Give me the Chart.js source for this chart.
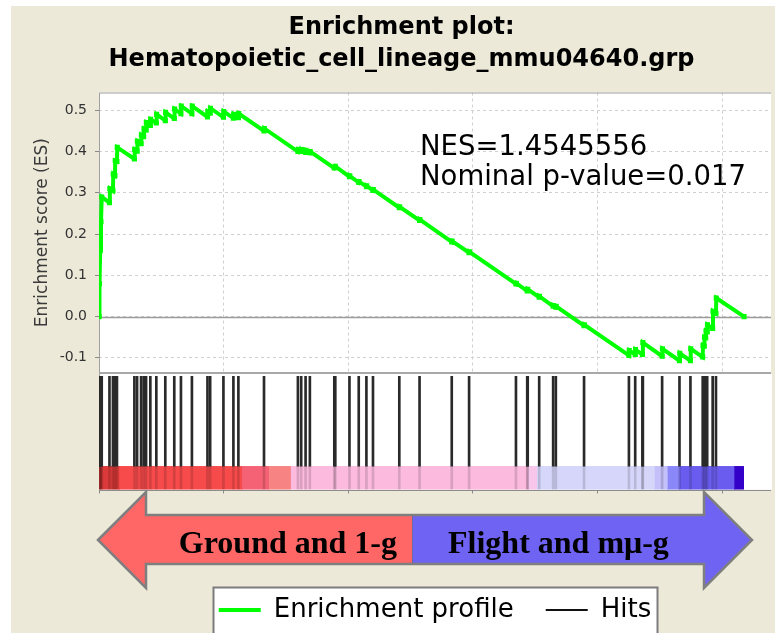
<!DOCTYPE html>
<html>
<head>
<meta charset="utf-8">
<title>Enrichment plot</title>
<script src="https://cdn.jsdelivr.net/npm/chart.js@4.4.1/dist/chart.umd.min.js"></script>
<style>
	html, body { margin: 0; padding: 0; background: #fff; }
	.gsea-frame { position: absolute; left: 11px; top: 6px; width: 764px; height: 627px; background: #ece9d8; }
	.gsea-plot { position: absolute; left: 0; top: 0; width: 775px; height: 633px; }
</style>
</head>
<body>
<div class="gsea-frame"></div>
<div class="gsea-plot"><canvas id="gsea-canvas" width="775" height="633"></canvas></div>
<script>
const titleLines = [ 'Enrichment plot:', 'Hematopoietic_cell_lineage_mmu04640.grp' ];
const statsLines = [ 'NES=1.4545556', 'Nominal p-value=0.017' ];
const arrowLabels = [ 'Ground and 1-g', 'Flight and m\u03bc-g' ];
const legendNames = [ 'Enrichment profile', 'Hits' ];

const yTicks = [ -0.1, 0.0, 0.1, 0.2, 0.3, 0.4, 0.5 ];
const xGridRanks = [ 0, 5000, 10000, 15000, 20000, 25000 ];

// running enrichment score (rank in list, ES)
const esRanks = [
	0, 20, 48, 80, 110, 420, 436, 560, 572, 640, 652, 720, 732,
	1420, 1432, 1528, 1540, 1688, 1700, 1792, 1804, 1888, 1900, 2060, 2072,
	2300, 2312, 2660, 2672, 3020, 3032, 3288, 3300, 3728, 3740, 4352, 4364,
	4460, 4472, 4992, 5004, 5392, 5404, 5592, 5604, 6620, 6632, 7980, 7992,
	8112, 8124, 8288, 8300, 8460, 8472, 9440, 9480, 10048, 10060, 10420, 10432,
	10728, 10740, 10992, 11004, 12048, 12060, 12860, 12872, 14152, 14164,
	14848, 14860, 16728, 16740, 17180, 17200, 17660, 17672, 18220, 18232,
	18328, 18340, 19460, 19472, 21260, 21272, 21512, 21524, 21800, 21820,
	22592, 22604, 23288, 23300, 23728, 23740, 24220, 24232, 24280, 24292,
	24340, 24352, 24400, 24412, 24620, 24632, 24752, 24764, 25880,
];
const esScores = [
	0, 0.08, 0.16, 0.23, 0.29, 0.276, 0.31, 0.305, 0.345, 0.342, 0.378, 0.376, 0.41,
	0.382, 0.405, 0.401, 0.425, 0.419, 0.44, 0.436, 0.455, 0.452, 0.47, 0.463, 0.478,
	0.469, 0.49, 0.475, 0.495, 0.48, 0.503, 0.492, 0.51, 0.492, 0.51, 0.484, 0.497,
	0.493, 0.505, 0.483, 0.497, 0.481, 0.49, 0.482, 0.492, 0.45, 0.456, 0.4, 0.405,
	0.4, 0.405, 0.398, 0.403, 0.397, 0.4, 0.36, 0.364, 0.339, 0.341, 0.325, 0.327,
	0.315, 0.317, 0.306, 0.308, 0.264, 0.266, 0.233, 0.235, 0.181, 0.183,
	0.155, 0.157, 0.079, 0.081, 0.062, 0.066, 0.047, 0.049, 0.025, 0.027,
	0.023, 0.025, -0.022, -0.02, -0.094, -0.082, -0.092, -0.08, -0.092, -0.063,
	-0.096, -0.078, -0.107, -0.089, -0.107, -0.078, -0.098, -0.07, -0.072, -0.05,
	-0.052, -0.035, -0.037, -0.02, -0.029, 0.013, 0.008, 0.045, 0,
];

// gene set members along the ranked list
const hitRanks = [
	20, 48, 80, 110, 420, 560, 640, 720, 1420, 1528, 1688, 1792, 1888, 2060,
	2300, 2660, 3020, 3288, 3728, 4352, 4460, 4992, 5392, 5592, 6620, 7980,
	8112, 8288, 8460, 9440, 9480, 10048, 10420, 10728, 10992, 12048, 12860,
	14152, 14848, 16728, 17180, 17200, 17660, 18220, 18328, 19460, 21260,
	21512, 21800, 21820, 22592, 23288, 23728, 24220, 24280, 24340, 24400,
	24620, 24752,
];

// ranked-list metric colour bar
const colorBarEdges = [ 0, 820, 5740, 6820, 7700, 17220, 17580, 22300, 22820, 23300, 25500, 25860 ];
const colorBarColors = [
	'#dc3a3a', '#f74b4b', '#f56275', '#f78383', '#fcbadf', '#f7c6ea',
	'#d6d6fb', '#c4c0fa', '#8a88f8', '#6a5cee', '#3400c9',
];

const X_MAX = 26960;
const HIT_BAND = [ 0.2, 0.97 ];
const BAR_TOP = 0.2;
const STATS_AT = { rank: 12880, score: 0.391, lineGap: 30 };
const ARROW = { left: 98, right: 752, split: 412, head: 48, top: 492, bottom: 588, shaftTop: 515, shaftBottom: 564 };
const PANEL_LINE = '#a0a0a0';

Chart.defaults.font.family = "'DejaVu Sans', sans-serif";
Chart.defaults.color = '#333';

const panelPlugin = {
	id: 'panels',
	beforeDraw( chart ) {
		const { ctx, chartArea: a } = chart;
		ctx.save();
		ctx.fillStyle = '#fff';
		ctx.fillRect( a.left, a.top, a.right - a.left, a.bottom - a.top );

		// framed legend box, sized from the legend items
		const boxes = chart.legend.legendHitBoxes;
		if ( boxes && boxes.length ) {
			const first = boxes[ 0 ];
			const last = boxes[ boxes.length - 1 ];
			const x0 = Math.round( first.left - 6 ) + 0.5;
			const x1 = Math.round( last.left + last.width + 6 ) + 0.5;
			const y0 = Math.round( first.top + first.height / 2 - 23 ) + 0.5;
			ctx.fillStyle = '#fff';
			ctx.fillRect( x0, y0, x1 - x0, chart.height - y0 + 10 );
			ctx.strokeStyle = '#7c7c7c';
			ctx.lineWidth = 2;
			ctx.strokeRect( x0, y0, x1 - x0, chart.height - y0 + 10 );
		}
		ctx.restore();
	},
	beforeDatasetsDraw( chart ) {
		const { ctx, chartArea: a, scales } = chart;
		const { x, y, y2 } = scales;
		ctx.save();
		// no grid in the hits panel
		ctx.fillStyle = '#fff';
		ctx.fillRect( a.left + 1, y2.top + 1, a.right - a.left, y2.bottom - y2.top - 1 );

		// backing under the colour bar so the fill edges don't leave white seams
		const barTop = y2.getPixelForValue( BAR_TOP );
		const barBottom = y2.getPixelForValue( 0 );
		colorBarColors.forEach( ( color, i ) => {
			const x0 = x.getPixelForValue( colorBarEdges[ i ] );
			const x1 = x.getPixelForValue( colorBarEdges[ i + 1 ] );
			ctx.fillStyle = color;
			ctx.fillRect( Math.floor( x0 ), barTop, Math.ceil( x1 ) - Math.floor( x0 ), barBottom - barTop );
		} );

		const zero = Math.round( y.getPixelForValue( 0 ) ) + 0.5;
		ctx.strokeStyle = '#9c9c9c';
		ctx.lineWidth = 1.5;
		ctx.beginPath();
		ctx.moveTo( a.left, zero );
		ctx.lineTo( a.right, zero );
		ctx.stroke();

		ctx.strokeStyle = PANEL_LINE;
		ctx.lineWidth = 1;
		ctx.beginPath();
		ctx.moveTo( a.left + 0.5, a.bottom );
		ctx.lineTo( a.left + 0.5, a.top + 0.5 );
		ctx.lineTo( a.right, a.top + 0.5 );
		ctx.stroke();

		ctx.lineWidth = 2;
		ctx.strokeStyle = '#a8a8a8';
		ctx.beginPath();
		ctx.moveTo( a.left, Math.round( y.bottom ) );
		ctx.lineTo( a.right, Math.round( y.bottom ) );
		ctx.stroke();

		ctx.lineWidth = 1;
		ctx.strokeStyle = '#8c8c8c';
		ctx.beginPath();
		ctx.moveTo( a.left, Math.round( a.bottom ) + 0.5 );
		ctx.lineTo( a.right, Math.round( a.bottom ) + 0.5 );
		ctx.stroke();
		ctx.restore();
	},
};

const statsPlugin = {
	id: 'statsNote',
	afterDatasetsDraw( chart ) {
		const { ctx, scales } = chart;
		const px = scales.x.getPixelForValue( STATS_AT.rank );
		const py = scales.y.getPixelForValue( STATS_AT.score );
		ctx.save();
		ctx.font = "27.5px 'DejaVu Sans', sans-serif";
		ctx.fillStyle = '#000';
		ctx.textAlign = 'left';
		ctx.textBaseline = 'alphabetic';
		statsLines.forEach( ( line, i ) => {
			ctx.fillText( line, px, py + i * STATS_AT.lineGap );
		} );
		ctx.restore();
	},
};

const arrowPlugin = {
	id: 'groupArrows',
	afterDraw( chart ) {
		const { ctx } = chart;
		const a = ARROW;
		const mid = ( a.top + a.bottom ) / 2;
		const lh = a.left + a.head;
		const rh = a.right - a.head;
		const outline = [
			[ a.left, mid ], [ lh, a.top ], [ lh, a.shaftTop ], [ rh, a.shaftTop ],
			[ rh, a.top ], [ a.right, mid ], [ rh, a.bottom ], [ rh, a.shaftBottom ],
			[ lh, a.shaftBottom ], [ lh, a.bottom ],
		];
		const trace = () => {
			ctx.beginPath();
			outline.forEach( ( p, i ) => ( i ? ctx.lineTo( p[ 0 ], p[ 1 ] ) : ctx.moveTo( p[ 0 ], p[ 1 ] ) ) );
			ctx.closePath();
		};

		ctx.save();
		[ [ 0, a.split, '#ff6666' ], [ a.split, chart.width, '#6f63f3' ] ].forEach( ( [ x0, x1, color ] ) => {
			ctx.save();
			ctx.beginPath();
			ctx.rect( x0, 0, x1 - x0, chart.height );
			ctx.clip();
			trace();
			ctx.fillStyle = color;
			ctx.fill();
			ctx.restore();
		} );
		trace();
		ctx.strokeStyle = '#7f7f7f';
		ctx.lineWidth = 2.5;
		ctx.lineJoin = 'miter';
		ctx.stroke();

		ctx.strokeStyle = 'rgba(110,110,110,0.6)';
		ctx.lineWidth = 1;
		ctx.beginPath();
		ctx.moveTo( a.split + 0.5, a.shaftTop );
		ctx.lineTo( a.split + 0.5, a.shaftBottom );
		ctx.stroke();

		ctx.fillStyle = '#000';
		ctx.font = "bold 32px 'Liberation Serif', serif";
		ctx.textBaseline = 'alphabetic';
		ctx.textAlign = 'right';
		ctx.fillText( arrowLabels[ 0 ], 397, 553 );
		ctx.textAlign = 'left';
		ctx.fillText( arrowLabels[ 1 ], 448, 553 );
		ctx.restore();
	},
};

const colorBarSets = colorBarColors.map( ( color, i ) => ( {
	type: 'line',
	yAxisID: 'y2',
	order: 3,
	data: [
		{ x: colorBarEdges[ i ], y: BAR_TOP },
		{ x: colorBarEdges[ i + 1 ], y: BAR_TOP },
	],
	fill: 'origin',
	backgroundColor: color,
	borderColor: 'rgba(0,0,0,0)',
	borderWidth: 0,
	pointRadius: 0,
} ) );

const datasets = [
	{
		type: 'line',
		label: legendNames[ 0 ],
		yAxisID: 'y',
		order: 0,
		data: esRanks.map( ( r, i ) => ( { x: r, y: esScores[ i ] } ) ),
		borderColor: '#00ff00',
		borderWidth: 4,
		tension: 0,
		pointStyle: 'rect',
		pointRadius: 3.6,
		pointBackgroundColor: '#00ff00',
		pointBorderWidth: 0,
	},
	{
		type: 'bar',
		label: legendNames[ 1 ],
		yAxisID: 'y2',
		order: 1,
		grouped: false,
		barThickness: 2,
		data: hitRanks.map( ( r ) => ( { x: r, y: HIT_BAND } ) ),
		backgroundColor: '#2a2a2a',
	},
	{
		type: 'bar',
		yAxisID: 'y2',
		order: 2,
		grouped: false,
		barThickness: 2,
		data: hitRanks.map( ( r ) => ( { x: r, y: [ 0, BAR_TOP ] } ) ),
		backgroundColor: 'rgba(0,0,0,0.14)',
	},
	...colorBarSets,
];

const legendStyle = [
	{ color: '#00ff00', width: 4 },
	{ color: '#111', width: 2 },
];

new Chart( document.getElementById( 'gsea-canvas' ), { // eslint-disable-line no-new
	type: 'line',
	data: { datasets },
	options: {
		responsive: false,
		animation: false,
		devicePixelRatio: 1,
		events: [],
		layout: { padding: { left: 28, right: 0, top: 6, bottom: 0 } },
		scales: {
			x: {
				type: 'linear',
				min: 0,
				max: X_MAX,
				offset: false,
				afterBuildTicks: ( scale ) => {
					scale.ticks = xGridRanks.map( ( v ) => ( { value: v } ) );
				},
				afterFit: ( scale ) => {
					scale.height = 75.5;
				},
				ticks: { display: false },
				grid: { offset: false, color: '#d0d0d0', borderDash: [ 3, 3 ], drawTicks: true, tickLength: 4, tickColor: '#8a8a8a' },
				border: { display: false, dash: [ 3, 3 ] },
			},
			// the stack is laid out bottom-up here, so the hits panel comes first
			y2: {
				type: 'linear',
				position: 'left',
				stack: 'panels',
				stackWeight: 116.8,
				min: 0,
				max: 1,
				ticks: { display: false },
				grid: { display: false, drawTicks: false },
				border: { display: false },
			},
			y: {
				type: 'linear',
				position: 'left',
				stack: 'panels',
				stackWeight: 280.2,
				min: -0.136,
				max: 0.543,
				afterBuildTicks: ( scale ) => {
					scale.ticks = yTicks.map( ( v ) => ( { value: v } ) );
				},
				afterFit: ( scale ) => {
					scale.width = 71;
				},
				ticks: {
					padding: 8,
					color: '#333',
					font: { size: 14 },
					callback: ( v ) => ( Math.abs( v ) < 1e-9 ? '0.0' : v.toFixed( 1 ) ),
				},
				grid: { color: '#d0d0d0', borderDash: [ 3, 3 ], tickLength: 4, tickColor: '#8a8a8a' },
				border: { display: false, dash: [ 3, 3 ] },
				title: {
					display: true,
					text: 'Enrichment score (ES)',
					color: '#3a3a3a',
					font: { size: 17 },
					padding: { top: 4, bottom: 4 },
				},
			},
		},
		plugins: {
			title: {
				display: true,
				text: titleLines,
				color: '#000',
				font: { size: 24, weight: 'bold', lineHeight: 1.33 },
				padding: { top: 5.5, bottom: 17.2 },
			},
			legend: {
				position: 'bottom',
				fullSize: false,
				labels: {
					usePointStyle: true,
					pointStyleWidth: 42,
					padding: 32,
					color: '#1c1c1c',
					font: { size: 26 },
					generateLabels: () =>
						legendNames.map( ( text, i ) => ( {
							text,
							pointStyle: 'line',
							strokeStyle: legendStyle[ i ].color,
							fillStyle: legendStyle[ i ].color,
							lineWidth: legendStyle[ i ].width,
							hidden: false,
							datasetIndex: i,
						} ) ),
				},
			},
			tooltip: { enabled: false },
		},
	},
	plugins: [ panelPlugin, statsPlugin, arrowPlugin ],
} );
</script>
</body>
</html>
